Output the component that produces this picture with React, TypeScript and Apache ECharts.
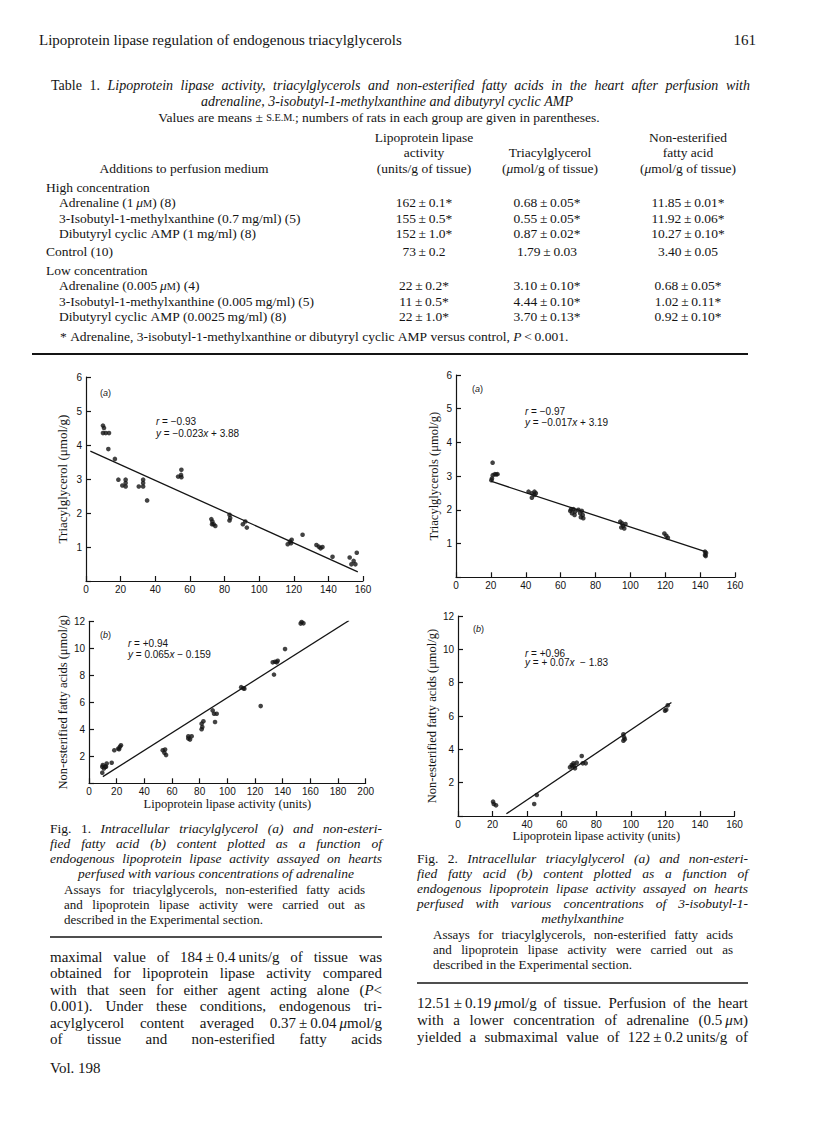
import React, { useEffect, useRef } from "react";
import * as echarts from "echarts";

// ---------------- data ----------------
// Fig. 1(a): triacylglycerol vs lipoprotein lipase activity
const fig1aPoints: number[][] = [
  [9.8, 4.57], [10.4, 4.5], [9.8, 4.35], [11.4, 4.35], [13.3, 4.35], [12.9, 3.88], [16.7, 3.59],
  [18.7, 2.98], [21.0, 2.81], [22.9, 2.78], [22.9, 2.98], [22.9, 2.88], [30.5, 2.78], [33.0, 2.78],
  [33.0, 2.98], [33.0, 2.88], [35.3, 2.37], [53.2, 3.07], [54.9, 3.12], [55.1, 3.27], [55.1, 3.05],
  [72.4, 1.82], [73.0, 1.75], [73.7, 1.67], [74.7, 1.62], [72.8, 1.67], [82.9, 1.95], [83.3, 1.85],
  [82.9, 1.78], [90.6, 1.67], [92.0, 1.75], [92.9, 1.57], [116.5, 1.08], [117.8, 1.16], [118.8, 1.21],
  [118.4, 1.11], [125.1, 1.36], [133.1, 1.06], [134.5, 1.01], [135.5, 0.96], [136.6, 1.0], [142.4, 0.71],
  [152.3, 0.69], [153.3, 0.49], [154.6, 0.59], [155.6, 0.49], [156.4, 0.83],
];
// Fig. 1(b): non-esterified fatty acids vs lipoprotein lipase activity
const fig1bPoints: number[][] = [
  [9.6, 0.79], [9.6, 1.23], [10.8, 1.1], [10.0, 1.35], [11.8, 1.23], [12.8, 1.47], [12.3, 1.23],
  [16.4, 1.52], [18.3, 2.45], [21.2, 2.58], [22.4, 2.7], [23.1, 2.82], [21.7, 2.53], [53.3, 2.45],
  [55.0, 2.5], [54.5, 2.26], [55.7, 2.09], [71.8, 3.48], [74.2, 3.48], [73.0, 3.24], [71.8, 3.31],
  [81.4, 4.42], [82.7, 4.59], [81.9, 4.17], [81.4, 4.0], [89.4, 5.4], [90.4, 5.15], [92.3, 5.15],
  [91.1, 4.54], [110.0, 7.12], [111.5, 7.04], [112.3, 7.0], [124.1, 5.72], [133.7, 8.05], [132.8, 8.96],
  [134.5, 9.0], [136.4, 9.08], [135.7, 8.96], [141.7, 9.94], [152.0, 12.07], [153.7, 11.95],
  [155.0, 11.85], [153.0, 11.83],
];
// Fig. 2(a): triacylglycerols vs lipoprotein lipase activity
const fig2aPoints: number[][] = [
  [21.0, 3.4], [20.6, 2.93], [21.1, 3.03], [22.3, 3.06], [23.1, 3.05], [23.8, 3.06], [20.3, 2.88],
  [41.6, 2.54], [43.5, 2.49], [43.5, 2.36], [45.0, 2.54], [45.0, 2.44], [45.8, 2.49],
  [65.5, 1.97], [66.5, 1.9], [67.4, 2.02], [68.0, 1.85], [68.4, 1.95], [70.2, 2.0], [71.2, 1.9],
  [71.6, 1.78], [72.2, 1.97], [72.7, 1.85], [66.0, 2.02], [73.0, 1.75],
  [94.2, 1.65], [95.2, 1.6], [95.8, 1.52], [96.5, 1.45], [94.8, 1.48], [97.2, 1.58],
  [119.5, 1.3], [120.6, 1.23], [121.5, 1.17],
  [142.8, 0.76], [142.8, 0.66], [143.2, 0.63], [143.4, 0.72],
];
// Fig. 2(b): non-esterified fatty acids vs lipoprotein lipase activity
const fig2bPoints: number[][] = [
  [20.3, 0.86], [20.7, 0.72], [22.0, 0.64], [44.1, 0.72], [45.6, 1.26],
  [64.8, 2.92], [65.8, 3.06], [66.8, 3.16], [67.7, 2.86], [68.7, 3.2], [71.6, 3.6], [72.2, 3.16],
  [73.9, 3.16], [66.2, 2.98], [67.2, 3.02],
  [95.7, 4.9], [96.1, 4.72], [95.7, 4.52], [96.5, 4.6],
  [119.8, 6.32], [120.5, 6.38], [121.4, 6.64],
];

// regression lines (from the printed equations) and their drawn extent
const fig1aFit = { slope: -0.023, intercept: 3.88, xFrom: 2.5, xTo: 157 };
const fig1bFit = { slope: 0.065, intercept: -0.159, xFrom: 10, xTo: 188 };
const fig2aFit = { slope: -0.017, intercept: 3.19, xFrom: 20, xTo: 143 };
const fig2bFit = { slope: 0.07, intercept: -1.83, xFrom: 28, xTo: 123.5 };

const fig1aStats = ["{i|r} = −0.93", "{i|y} = −0.023{i|x} + 3.88"];
const fig1bStats = ["{i|r} = +0.94", "{i|y} = 0.065{i|x} − 0.159"];
const fig2aStats = ["{i|r} = −0.97", "{i|y} = −0.017{i|x} + 3.19"];
const fig2bStats = ["{i|r} = +0.96", "{i|y} = + 0.07{i|x}  − 1.83"];

// axis ranges [min, max, interval]
const xRange1a = [0, 160, 20];
const yRange1a = [0, 6, 1];
const xRange1b = [0, 200, 20];
const yRange1b = [0, 12, 2];
const xRange2a = [0, 160, 20];
const yRange2a = [0, 6, 1];
const xRange2b = [0, 160, 20];
const yRange2b = [0, 12, 2];

const xName = "Lipoprotein lipase activity (units)";
const yName1a = "Triacylglycerol (μmol/g)";
const yName1b = "Non-esterified fatty acids (μmol/g)";
const yName2a = "Triacylglycerols (μmol/g)";
const yName2b = "Non-esterified fatty acids (μmol/g)";

// ---------------- page texts ----------------
const runningHead = "Lipoprotein lipase regulation of endogenous triacylglycerols";
const pageNumber = "161";
const tableTitle = [
  "Table 1. ~Lipoprotein lipase activity, triacylglycerols and non-esterified fatty acids in the heart after perfusion with~",
  "~adrenaline, 3-isobutyl-1-methylxanthine and dibutyryl cyclic AMP~",
  "Values are means ± ^S.E.M.^; numbers of rats in each group are given in parentheses.",
];
const colHead1 = ["Lipoprotein lipase", "activity", "(units/g of tissue)"];
const colHead2 = ["Triacylglycerol", "(~μ~mol/g of tissue)"];
const colHead3 = ["Non-esterified", "fatty acid", "(~μ~mol/g of tissue)"];
const rowHead = "Additions to perfusion medium";
const rowLabels = [
  "High concentration",
  "Adrenaline (1\u2009~μ~^M^) (8)",
  "3-Isobutyl-1-methylxanthine (0.7\u2009mg/ml) (5)",
  "Dibutyryl cyclic AMP (1\u2009mg/ml) (8)",
  "Control (10)",
  "Low concentration",
  "Adrenaline (0.005\u2009~μ~^M^) (4)",
  "3-Isobutyl-1-methylxanthine (0.005\u2009mg/ml) (5)",
  "Dibutyryl cyclic AMP (0.0025\u2009mg/ml) (8)",
];
const rowIndent = [0, 1, 1, 1, 0, 0, 1, 1, 1];
const lplValues = ["", "162\u2009±\u20090.1*", "155\u2009±\u20090.5*", "152\u2009±\u20091.0*", "73\u2009±\u20090.2", "", "22\u2009±\u20090.2*", "11\u2009±\u20090.5*", "22\u2009±\u20091.0*"];
const tagValues = ["", "0.68\u2009±\u20090.05*", "0.55\u2009±\u20090.05*", "0.87\u2009±\u20090.02*", "1.79\u2009±\u20090.03", "", "3.10\u2009±\u20090.10*", "4.44\u2009±\u20090.10*", "3.70\u2009±\u20090.13*"];
const nefaValues = ["", "11.85\u2009±\u20090.01*", "11.92\u2009±\u20090.06*", "10.27\u2009±\u20090.10*", "3.40\u2009±\u20090.05", "", "0.68\u2009±\u20090.05*", "1.02\u2009±\u20090.11*", "0.92\u2009±\u20090.10*"];
const tableFootnote = "* Adrenaline, 3-isobutyl-1-methylxanthine or dibutyryl cyclic AMP versus control, ~P~\u2009<\u20090.001.";

const fig1Caption = [
  "Fig. 1. ~Intracellular triacylglycerol (a) and non-esteri-~",
  "~fied fatty acid (b) content plotted as a function of~",
  "~endogenous lipoprotein lipase activity assayed on hearts~",
  "~perfused with various concentrations of adrenaline~",
];
const fig2Caption = [
  "Fig. 2. ~Intracellular triacylglycerol (a) and non-esteri-~",
  "~fied fatty acid (b) content plotted as a function of~",
  "~endogenous lipoprotein lipase activity assayed on hearts~",
  "~perfused with various concentrations of 3-isobutyl-1-~",
  "~methylxanthine~",
];
const figNote = [
  "Assays for triacylglycerols, non-esterified fatty acids",
  "and lipoprotein lipase activity were carried out as",
  "described in the Experimental section.",
];
const leftBody = [
  "maximal value of 184\u2009±\u20090.4\u2009units/g of tissue was",
  "obtained for lipoprotein lipase activity compared",
  "with that seen for either agent acting alone (~P~<",
  "0.001). Under these conditions, endogenous tri-",
  "acylglycerol content averaged 0.37\u2009±\u20090.04\u2009~μ~mol/g",
  "of tissue and non-esterified fatty acids",
];
const rightBody = [
  "12.51\u2009±\u20090.19\u2009~μ~mol/g of tissue. Perfusion of the heart",
  "with a lower concentration of adrenaline (0.5\u2009~μ~^M^)",
  "yielded a submaximal value of 122\u2009±\u20090.2\u2009units/g of",
];
const footer = "Vol. 198";

// ---------------- helpers ----------------
const SERIF = "'Liberation Serif', 'Times New Roman', serif";
const SANS = "'Liberation Sans', Arial, Helvetica, sans-serif";
const INK = "#141414";

let mctx: CanvasRenderingContext2D | null = null;
function measure(t: string, size: number, italic: boolean): number {
  if (!mctx) mctx = document.createElement("canvas").getContext("2d");
  mctx!.font = `${italic ? "italic " : ""}${size}px ${SERIF}`;
  return mctx!.measureText(t).width;
}

type Run = { t: string; it: boolean; sc: boolean };
function parseWords(s: string): Run[][] {
  const words: Run[][] = [];
  let it = false;
  let sc = false;
  let word: Run[] = [];
  let cur = "";
  const flush = () => {
    if (cur) {
      word.push({ t: cur, it, sc });
      cur = "";
    }
  };
  for (const ch of s) {
    if (ch === "~") {
      flush();
      it = !it;
    } else if (ch === "^") {
      flush();
      sc = !sc;
    } else if (ch === " ") {
      flush();
      if (word.length) {
        words.push(word);
        word = [];
      }
    } else cur += ch;
  }
  flush();
  if (word.length) words.push(word);
  return words;
}

type Align = "left" | "center" | "right" | "justify";
function textLine(s: string, x0: number, x1: number, y: number, size: number, align: Align): any[] {
  const words = parseWords(s);
  const runSize = (r: Run) => (r.sc ? size * 0.76 : size);
  const ww = words.map((w) => w.reduce((a, r) => a + measure(r.t, runSize(r), r.it), 0));
  const sumW = ww.reduce((a, b) => a + b, 0);
  let gap = measure(" ", size, false);
  if (align === "justify" && words.length > 1) gap = (x1 - x0 - sumW) / (words.length - 1);
  const total = sumW + gap * (words.length - 1);
  let x = align === "center" ? (x0 + x1) / 2 - total / 2 : align === "right" ? x1 - total : x0;
  const els: any[] = [];
  words.forEach((w, i) => {
    let rx = x;
    w.forEach((r) => {
      const sz = runSize(r);
      els.push({
        type: "text",
        x: rx,
        y: y + (size - sz) * 0.3,
        silent: true,
        style: {
          text: r.t,
          fontSize: sz,
          fontFamily: SERIF,
          fontStyle: r.it ? "italic" : "normal",
          fill: INK,
          align: "left",
          verticalAlign: "middle",
        },
      });
      rx += measure(r.t, sz, r.it);
    });
    x += ww[i] + gap;
  });
  return els;
}

function rule(x1: number, x2: number, y: number, w = 1.4): any {
  return { type: "line", silent: true, shape: { x1, y1: y, x2, y2: y }, style: { stroke: INK, lineWidth: w } };
}

function note(text: string, x: number, y: number, size = 10): any {
  return {
    type: "text",
    x,
    y,
    silent: true,
    style: {
      text,
      fontSize: size,
      fontFamily: SANS,
      fill: INK,
      align: "left",
      verticalAlign: "middle",
      rich: { i: { fontStyle: "italic", fontSize: size, fontFamily: SANS, fill: INK } },
    },
  };
}

function fitData(f: { slope: number; intercept: number; xFrom: number; xTo: number }) {
  return [
    [f.xFrom, f.slope * f.xFrom + f.intercept],
    [f.xTo, f.slope * f.xTo + f.intercept],
  ];
}

function xAxisOf(r: number[], gridIndex: number, name: string | null, nameGap = 13) {
  return {
    type: "value",
    gridIndex,
    min: r[0],
    max: r[1],
    interval: r[2],
    name: name || "",
    nameLocation: "middle",
    nameGap,
    nameTextStyle: { fontFamily: SERIF, fontSize: 12.5, color: INK },
    axisLine: { show: true, onZero: false, lineStyle: { color: INK, width: 1.2 } },
    axisTick: { show: true, inside: true, length: 5, lineStyle: { color: INK, width: 1.2 } },
    axisLabel: { fontFamily: SANS, fontSize: 10, color: INK, margin: 3, showMaxLabel: true },
    splitLine: { show: false },
  };
}

function yAxisOf(r: number[], gridIndex: number, name: string, nameGap: number, nameSize = 12.5) {
  return {
    type: "value",
    gridIndex,
    min: r[0],
    max: r[1],
    interval: r[2],
    name,
    nameLocation: "middle",
    nameGap,
    nameTextStyle: { fontFamily: SERIF, fontSize: nameSize, color: INK },
    axisLine: { show: true, onZero: false, lineStyle: { color: INK, width: 1.2 } },
    axisTick: { show: true, inside: true, length: 5, lineStyle: { color: INK, width: 1.2 } },
    axisLabel: {
      fontFamily: SANS,
      fontSize: 10,
      color: INK,
      margin: 4,
      formatter: (v: number) => (v === 0 ? "" : String(v)),
    },
    splitLine: { show: false },
  };
}

function buildGraphics(): any[] {
  const g: any[] = [];
  const add = (a: any[]) => a.forEach((e) => g.push(e));
  // running head
  add(textLine(runningHead, 39, 500, 40, 15, "left"));
  add(textLine(pageNumber, 600, 756, 40, 15, "right"));
  // table
  add(textLine(tableTitle[0], 51, 750, 85, 14, "justify"));
  add(textLine(tableTitle[1], 200, 574, 101, 14, "center"));
  add(textLine(tableTitle[2], 130, 628, 117, 13.5, "center"));
  const c1 = 424, c2 = 550, c3 = 688;
  colHead1.forEach((t, i) => add(textLine(t, c1 - 80, c1 + 80, 137 + i * 15.5, 13.5, "center")));
  colHead2.forEach((t, i) => add(textLine(t, c2 - 80, c2 + 80, 152.5 + i * 15.5, 13.5, "center")));
  colHead3.forEach((t, i) => add(textLine(t, c3 - 80, c3 + 80, 137 + i * 15.5, 13.5, "center")));
  add(textLine(rowHead, 70, 298, 168, 13.5, "center"));
  const rowY = [187, 202.5, 218, 233.5, 251.5, 270, 285.5, 301, 316.5];
  rowLabels.forEach((t, i) => {
    add(textLine(t, rowIndent[i] ? 59 : 46, 400, rowY[i], 13.5, "left"));
    if (lplValues[i]) add(textLine(lplValues[i], c1 - 60, c1 + 60, rowY[i], 13.5, "center"));
    if (tagValues[i]) add(textLine(tagValues[i], c2 - 3 - 60, c2 - 3 + 60, rowY[i], 13.5, "center"));
    if (nefaValues[i]) add(textLine(nefaValues[i], c3 - 60, c3 + 60, rowY[i], 13.5, "center"));
  });
  add(textLine(tableFootnote, 60, 700, 336, 13.5, "left"));
  g.push(rule(32, 748, 354, 1.8));

  // plot annotations
  g.push(note("({i|a})", 100, 393, 9));
  g.push(note(fig1aStats[0], 156, 421.5));
  g.push(note(fig1aStats[1], 156, 433.5));
  g.push(note("({i|b})", 100, 635, 9));
  g.push(note(fig1bStats[0], 128, 643.5));
  g.push(note(fig1bStats[1], 128, 654.5));
  g.push(note("({i|a})", 472, 389, 9));
  g.push(note(fig2aStats[0], 525, 411.5));
  g.push(note(fig2aStats[1], 525, 422.5));
  g.push(note("({i|b})", 473, 629, 9));
  g.push(note(fig2bStats[0], 525, 653));
  g.push(note(fig2bStats[1], 525, 662.5));

  // left column
  const L0 = 50, L1 = 382;
  fig1Caption.forEach((t, i) => add(textLine(t, L0, L1, 828 + i * 15, 13.5, i < 3 ? "justify" : "center")));
  figNote.forEach((t, i) => add(textLine(t, 64, 365, 889 + i * 15, 13, i < 2 ? "justify" : "left")));
  g.push(rule(L0, L1, 937, 1.6));
  leftBody.forEach((t, i) => add(textLine(t, L0, L1, 957 + i * 16.4, 15, "justify")));
  add(textLine(footer, L0, 300, 1068, 15, "left"));

  // right column
  const R0 = 417, R1 = 748;
  fig2Caption.forEach((t, i) => add(textLine(t, R0, R1, 858 + i * 15.2, 13.5, i < 4 ? "justify" : "center")));
  figNote.forEach((t, i) => add(textLine(t, 433, 733, 934 + i * 15, 13, i < 2 ? "justify" : "left")));
  g.push(rule(R0, R1, 983, 1.6));
  rightBody.forEach((t, i) => add(textLine(t, R0, R1, 1003 + i * 16.8, 15, "justify")));
  return g;
}

export default function App() {
  const ref = useRef<HTMLDivElement>(null);
  useEffect(() => {
    if (!ref.current) return;
    const chart = echarts.init(ref.current, null, { renderer: "svg" });
    const scatter = (data: number[][], i: number) => ({
      type: "scatter",
      xAxisIndex: i,
      yAxisIndex: i,
      data,
      symbolSize: 4.6,
      itemStyle: { color: INK },
      silent: true,
    });
    const fit = (data: number[][], i: number) => ({
      type: "line",
      xAxisIndex: i,
      yAxisIndex: i,
      data,
      showSymbol: false,
      symbol: "none",
      lineStyle: { color: INK, width: 1.3 },
      silent: true,
    });
    const option: any = {
      animation: false,
      backgroundColor: "#ffffff",
      grid: [
        { left: 86, top: 377, width: 277, height: 204, containLabel: false, outerBoundsMode: "none" },
        { left: 89, top: 621.3, width: 276.7, height: 162, containLabel: false, outerBoundsMode: "none" },
        { left: 456, top: 375, width: 279, height: 202.3, containLabel: false, outerBoundsMode: "none" },
        { left: 458, top: 616, width: 276.5, height: 200, containLabel: false, outerBoundsMode: "none" },
      ],
      xAxis: [
        xAxisOf(xRange1a, 0, null),
        xAxisOf(xRange1b, 1, xName, 13),
        xAxisOf(xRange2a, 2, null),
        xAxisOf(xRange2b, 3, xName, 13),
      ],
      yAxis: [
        yAxisOf(yRange1a, 0, yName1a, 17, 13),
        yAxisOf(yRange1b, 1, yName1b, 18),
        yAxisOf(yRange2a, 2, yName2a, 16),
        yAxisOf(yRange2b, 3, yName2b, 20),
      ],
      series: [
        scatter(fig1aPoints, 0),
        fit(fitData(fig1aFit), 0),
        scatter(fig1bPoints, 1),
        fit(fitData(fig1bFit), 1),
        scatter(fig2aPoints, 2),
        fit(fitData(fig2aFit), 2),
        scatter(fig2bPoints, 3),
        fit(fitData(fig2bFit), 3),
      ],
      graphic: { elements: buildGraphics() },
    };
    chart.setOption(option);
    return () => chart.dispose();
  }, []);
  return (
    <div
      ref={ref}
      style={{ position: "absolute", left: 0, top: 0, width: 816, height: 1136, background: "#fff" }}
    />
  );
}
